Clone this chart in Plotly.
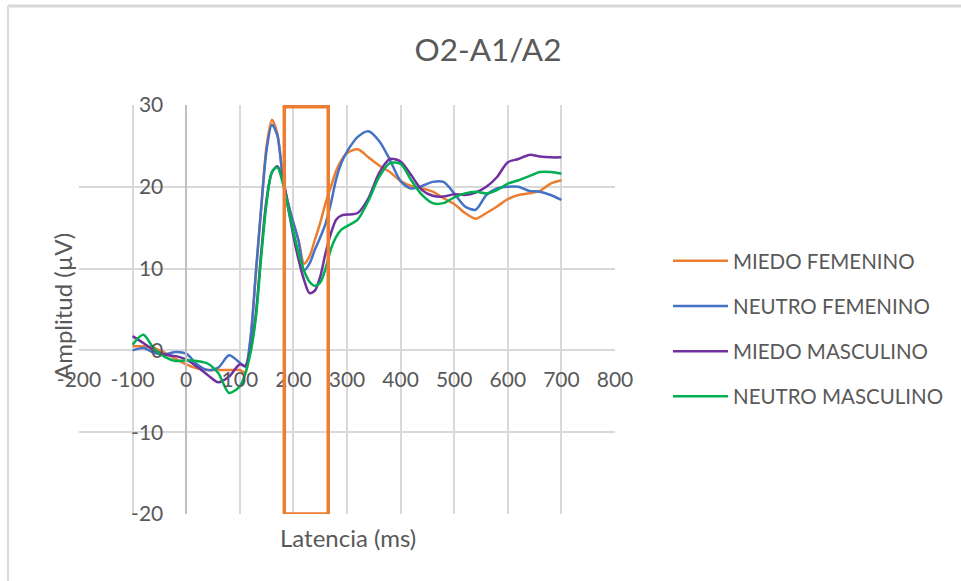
import plotly.graph_objects as go

latencia_ms = [-100, -80, -60, -40, -20, 0, 20, 40, 60, 80, 100,
               110, 120, 130, 140, 150, 160, 170, 180, 190, 200,
               210, 220, 230, 240, 250, 260, 270, 280, 290, 300,
               320, 340, 360, 380, 400, 420, 440, 460, 480, 500,
               520, 540, 560, 580, 600, 620, 640, 660, 680, 700]

miedo_femenino = [0.5, 0.5, 0.3, -0.3, -1.0, -1.7, -2.2, -2.4, -2.4, -2.4, -2.4,
                  -2.7, 1.5, 9.5, 17.5, 25.0, 28.2, 26.5, 21.3, 18.0, 15.6,
                  13.3, 10.6, 11.5, 13.5, 15.6, 18.0, 20.0, 22.0, 23.3, 24.1,
                  24.6, 23.6, 22.6, 21.8, 20.7, 20.1, 19.8, 19.4, 18.6, 17.9,
                  16.8, 16.1, 16.8, 17.6, 18.5, 19.0, 19.2, 19.5, 20.4, 20.8]

neutro_femenino = [0.0, 0.3, -0.3, -0.5, -0.2, -0.4, -1.7, -2.4, -2.1, -0.6, -1.5,
                   -2.0, 1.5, 9.5, 17.5, 24.5, 27.6, 26.3, 21.3, 18.0, 15.6,
                   13.3, 9.8, 10.6, 12.3, 13.8, 15.5, 18.0, 21.0, 23.0, 24.3,
                   26.1, 26.8, 25.6, 23.3, 20.7, 19.8, 20.1, 20.6, 20.6, 19.2,
                   17.6, 17.2, 19.0, 19.8, 20.0, 20.0, 19.5, 19.4, 19.0, 18.4]

miedo_masculino = [1.75, 0.9, 0.0, -0.5, -0.7, -1.1, -2.0, -3.0, -3.9, -3.2, -1.7,
                   -1.9, 0.0, 4.5, 12.0, 18.5, 21.8, 22.5, 21.0, 17.5, 14.0,
                   11.0, 8.6, 7.0, 7.3, 9.0, 11.9, 14.3, 16.0, 16.5, 16.6,
                   16.8, 18.6, 21.7, 23.4, 23.1, 21.4, 19.6, 18.9, 18.8, 19.1,
                   19.0, 19.3, 20.0, 21.2, 23.0, 23.4, 23.9, 23.7, 23.6, 23.6]

neutro_masculino = [0.7, 1.9, 0.2, -0.8, -1.3, -1.2, -1.3, -1.6, -2.8, -5.2, -4.4,
                    -2.9, -0.3, 4.0, 11.5, 18.0, 21.8, 22.4, 20.5, 17.5, 14.5,
                    11.8, 9.7, 8.4, 7.9, 8.3, 10.0, 12.4, 13.9, 14.8, 15.2,
                    16.0, 18.3, 21.2, 22.9, 22.8, 20.8, 19.0, 18.0, 18.0, 18.7,
                    19.2, 19.4, 19.2, 19.6, 20.4, 20.8, 21.3, 21.8, 21.8, 21.6]

series_names = ["MIEDO FEMENINO", "NEUTRO FEMENINO", "MIEDO MASCULINO", "NEUTRO MASCULINO"]
series_values = [miedo_femenino, neutro_femenino, miedo_masculino, neutro_masculino]
series_colors = ["#ED7D31", "#4472C4", "#7030A0", "#00B050"]

x_ticks = list(range(-200, 801, 100))
x_tick_labels = [str(v) for v in x_ticks]
y_ticks = list(range(-20, 31, 10))
y_tick_labels = [str(v) for v in y_ticks]
x_range = [-200, 800]
y_range = [-20, 30]

# highlighted latency window (ms) and amplitude extent
window_start, window_end = 183, 265
window_bottom, window_top = -20, 29.8

title_text = "O2-A1/A2"
x_title = "Latencia (ms)"
y_title = "Amplitud (µV)"

FONT = "Lato"
TXT = "#595959"
GRID = "#d9d9d9"

fig = go.Figure()
for name, vals, col in zip(series_names, series_values, series_colors):
    fig.add_trace(go.Scatter(
        x=latencia_ms, y=vals, mode="lines", name=name,
        line=dict(color=col, width=2.5, shape="spline", smoothing=0.8),
        legendgroup=name,
    ))

fig.add_shape(type="rect", xref="x", yref="y",
              x0=window_start, x1=window_end, y0=window_bottom, y1=window_top,
              line=dict(color="#ED7D31", width=3.5), fillcolor="rgba(0,0,0,0)")

# outer chart border (left and top edges visible)
fig.add_shape(type="line", xref="paper", yref="paper",
              x0=-0.1325, x1=-0.1325, y0=1.242, y1=-0.2,
              line=dict(color="#d9d9d9", width=2))
fig.add_shape(type="line", xref="paper", yref="paper",
              x0=-0.1325, x1=1.7, y0=1.242, y1=1.242,
              line=dict(color="#d9d9d9", width=3))

pos_x_axis = (0 - y_range[0]) / (y_range[1] - y_range[0])
pos_y_axis = (0 - x_range[0]) / (x_range[1] - x_range[0])

fig.update_layout(
    width=961, height=581,
    margin=dict(l=79, r=346, t=105, b=67),
    paper_bgcolor="white", plot_bgcolor="white",
    font=dict(family=FONT, color=TXT),
    title=dict(text=title_text, x=488 / 961, xanchor="center",
               y=1 - 50 / 581, yanchor="middle",
               font=dict(size=31.5, color=TXT, family=FONT)),
    xaxis=dict(range=x_range, tickvals=x_ticks, ticktext=x_tick_labels,
               showgrid=True, gridcolor=GRID, gridwidth=1.5,
               zeroline=False, showline=False, anchor="free", position=pos_x_axis,
               tickfont=dict(size=21, color=TXT), ticks="", ticklabelstandoff=15),
    yaxis=dict(range=y_range, tickvals=y_ticks, ticktext=y_tick_labels,
               showgrid=True, gridcolor=GRID, gridwidth=1.5,
               zeroline=False, showline=True, linecolor="#bfbfbf", linewidth=1.5,
               anchor="free", position=pos_y_axis,
               tickfont=dict(size=21, color=TXT), ticks="", ticklabelstandoff=18),
    legend=dict(x=(668 - 79) / 536, xanchor="left", y=(514 - 329) / 409, yanchor="middle",
                font=dict(size=20.5, color=TXT), tracegroupgap=15.5, itemwidth=55,
                bgcolor="rgba(0,0,0,0)"),
    showlegend=True,
    annotations=[
        dict(text=x_title, xref="paper", yref="paper", x=0.502, y=-0.058,
             showarrow=False, font=dict(size=24, color=TXT), xanchor="center", yanchor="middle"),
        dict(text=y_title, xref="paper", yref="paper", x=-0.0317, y=0.506, textangle=-90,
             showarrow=False, font=dict(size=24, color=TXT), xanchor="center", yanchor="middle"),
    ],
)

fig.write_html("out.html")
